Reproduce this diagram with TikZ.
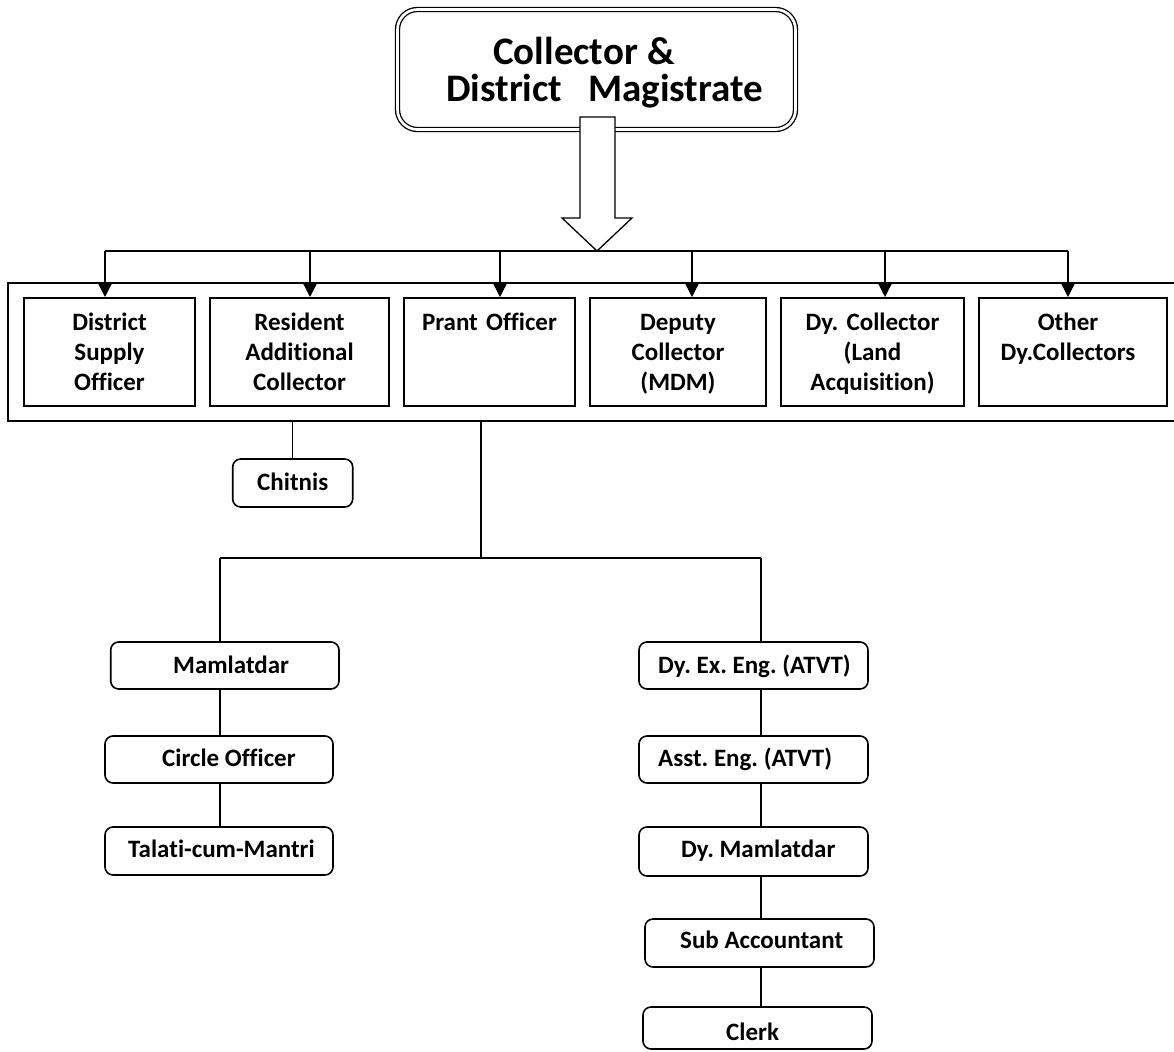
\documentclass[tikz,border=0pt]{standalone}
\usepackage{fontspec}
\setmainfont{Carlito}[Ligatures=NoCommon]
\usetikzlibrary{arrows.meta}

\begin{document}
\frenchspacing
\begin{tikzpicture}[x=1pt,y=-1pt,
  sqbox/.style={draw, line width=2pt, inner sep=0pt},
  rbox/.style={draw, line width=1.6pt, rounded corners=8pt, inner sep=0pt},
  lbl/.style={font=\fontsize{25}{30}\selectfont\bfseries, inner sep=0pt,
              text width=#1, align=center, anchor=base},
  txt/.style={font=\fontsize{25}{30}\selectfont\bfseries, inner sep=0pt, anchor=base west},
  link/.style={line width=1.2pt},
  feed/.style={line width=1.2pt, -{Triangle[width=13pt,length=13pt]}}
]
\useasboundingbox (0,0) rectangle (1174,1051);
\clip (0,0) rectangle (1174,1051);

% head of the district
\node[draw, double, double distance=2.7pt, line width=1.3pt, rounded corners=20pt,
      minimum width=398pt, minimum height=120pt, inner sep=0pt] (head) at (596.5,69.5) {};
\node[font=\fontsize{39}{36.7}\selectfont\bfseries, text width=330pt, align=left,
      inner sep=0pt, anchor=base west] (headT) at (446,65)
  {\hspace*{47pt}Collector\hspace{10pt}\&\\District\ \ Magistrate};

% block arrow down to the officers' bus
\coordinate (tip) at (597,251);
\draw[line width=1.3pt, fill=white]
  (580,117) -- (615,117) -- (615,218) -- (632,218) -- (tip) -- (562,218) -- (580,218) -- cycle;

% container of the district level officers
\node[sqbox, minimum width=1182pt, minimum height=138pt] (cont) at (599,352) {};

% district level officers
\node[sqbox, minimum width=171pt, minimum height=108pt] (dso)   at (109.5,352) {};
\node[sqbox, minimum width=179pt, minimum height=108pt] (rac)   at (299.5,352) {};
\node[sqbox, minimum width=171pt, minimum height=108pt] (prant) at (489.5,352) {};
\node[sqbox, minimum width=176pt, minimum height=108pt] (mdm)   at (678,352) {};
\node[sqbox, minimum width=183pt, minimum height=108pt] (land)  at (872.5,352) {};
\node[sqbox, minimum width=188pt, minimum height=108pt] (other) at (1073,352) {};

\node[lbl=160pt] (dsoT)   at (109.5,330) {District\\Supply\\Officer};
\node[lbl=170pt] (racT)   at (299.5,330) {Resident\\Additional\\Collector};
\node[lbl=160pt] (prantT) at (489.5,330) {Prant Officer};
\node[lbl=166pt] (mdmT)   at (678,330) {Deputy\\Collector\\(MDM)};
\node[lbl=175pt] (landT)  at (872.5,330) {Dy. Collector\\(Land\\Acquisition)};
\node[lbl=178pt] (otherT) at (1068,330) {Other\\Dy.Collectors};

% bus from the collector
\coordinate (b1) at (105,251);
\coordinate (b2) at (310,251);
\coordinate (b3) at (500,251);
\coordinate (b4) at (692,251);
\coordinate (b5) at (885,251);
\coordinate (b6) at (1068,251);
\draw[link] (b1) -- (b6);
\draw[feed] (b1) -- (b1 |- dso.north);
\draw[feed] (b2) -- (b2 |- rac.north);
\draw[feed] (b3) -- (b3 |- prant.north);
\draw[feed] (b4) -- (b4 |- mdm.north);
\draw[feed] (b5) -- (b5 |- land.north);
\draw[feed] (b6) -- (b6 |- other.north);

% chitnis
\node[rbox, minimum width=120pt, minimum height=48pt] (chit) at (292.7,483) {};
\node[txt] (chitT) at (257,490.7) {Chitnis};
\draw[link] (chit.north |- cont.south) -- (chit.north);

% taluka level
\node[rbox, minimum width=228.3pt, minimum height=47pt] (mam)    at (224.85,665.5) {};
\node[rbox, minimum width=228pt, minimum height=47pt]   (circle) at (219,759.5) {};
\node[rbox, minimum width=228pt, minimum height=48pt]   (talati) at (219,851) {};
\node[rbox, minimum width=229pt, minimum height=47pt]   (dyex)   at (753.5,665.5) {};
\node[rbox, minimum width=229pt, minimum height=47pt]   (asst)   at (753.5,759.5) {};
\node[rbox, minimum width=229pt, minimum height=49pt]   (dymam)  at (753.5,851.5) {};
\node[rbox, minimum width=229pt, minimum height=48pt]   (sub)    at (759.5,943) {};
\node[rbox, minimum width=229pt, minimum height=42pt]   (clerk)  at (757.5,1028) {};

\node[txt] (mamT)    at (173,673)  {Mamlatdar};
\node[txt] (circleT) at (162,766)  {Circle Officer};
\node[txt] (talatiT) at (128,857)  {Talati-cum-Mantri};
\node[txt] (dyexT)   at (658,673)  {Dy. Ex. Eng. (ATVT)};
\node[txt] (asstT)   at (658,766)  {Asst. Eng. (ATVT)};
\node[txt] (dymamT)  at (681,857)  {Dy. Mamlatdar};
\node[txt] (subT)    at (680,948)  {Sub Accountant};
\node[txt] (clerkT)  at (726,1040) {Clerk};

% branch below the prant officer
\coordinate (pb) at (481,558);
\coordinate (lb) at (220,558);
\coordinate (rb) at (761,558);
\draw[link] (pb |- cont.south) -- (pb);
\draw[link] (lb) -- (rb);
\draw[link] (lb) -- (lb |- mam.north);
\draw[link] (rb) -- (rb |- dyex.north);

% chains of subordinates
\draw[link] (lb |- mam.south) -- (lb |- circle.north);
\draw[link] (lb |- circle.south) -- (lb |- talati.north);
\draw[link] (rb |- dyex.south) -- (rb |- asst.north);
\draw[link] (rb |- asst.south) -- (rb |- dymam.north);
\draw[link] (rb |- dymam.south) -- (rb |- sub.north);
\draw[link] (rb |- sub.south) -- (rb |- clerk.north);
\end{tikzpicture}
\end{document}
